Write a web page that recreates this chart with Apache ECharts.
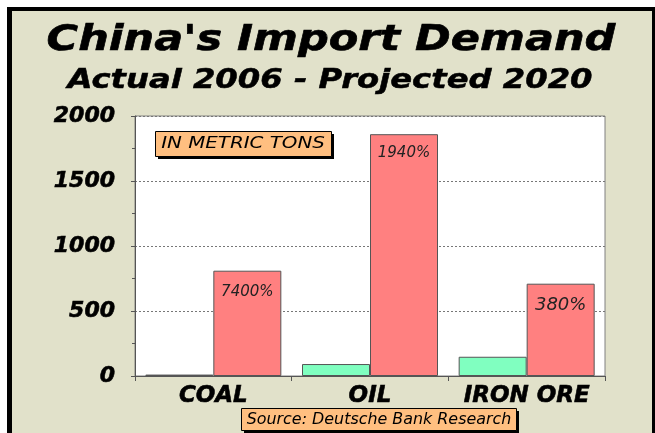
<!DOCTYPE html>
<html>
<head>
<meta charset="utf-8">
<script src="https://cdn.jsdelivr.net/npm/echarts@6/dist/echarts.min.js"></script>
<style>
  body { margin: 0; width: 655px; height: 433px; overflow: hidden; background: #fff; position: relative; }
  #frame {
    position: absolute; left: 7px; top: 7px; width: 640px; height: 460px;
    background: #e1e1ca; border: 4px solid #000; border-left-width: 5px;
  }
  #chart { position: absolute; left: 0; top: 0; width: 655px; height: 433px; }
</style>
</head>
<body>
<div id="frame"></div>
<div id="chart"></div>
<script>
// China's import demand, metric tons
const categories = ['COAL', 'OIL', 'IRON ORE'];
const actual2006 = [11, 92, 148];
const projected2020 = [810, 1860, 710];
const growthLabels = ['7400%', '1940%', '380%'];
const yTicks = [0, 500, 1000, 1500, 2000];

const font = 'DejaVu Sans, Verdana, sans-serif';

const chart = echarts.init(document.getElementById('chart'));

const boxStyle = { fill: '#ffbf80', stroke: '#000', lineWidth: 1 };

// the original text is drawn a bit wider than the font, so stretch it
function wideText(text, x, y, fontCss, sx, weight) {
  const style = { text: text, align: 'center', verticalAlign: 'middle', fill: '#000', font: fontCss };
  if (weight) {
    style.stroke = '#000';
    style.lineWidth = weight;
  }
  return { type: 'text', x: x, y: y, scaleX: sx, style: style };
}

const option = {
  animation: false,
  grid: {
    left: 135,
    right: 50,
    top: 116,
    bottom: 57,
    show: true,
    backgroundColor: '#fff',
    borderColor: '#808080',
    borderWidth: 1
  },
  xAxis: {
    type: 'category',
    data: categories,
    axisLine: { lineStyle: { color: '#555' } },
    axisTick: { show: true, length: 5, lineStyle: { color: '#555' } },
    axisLabel: {
      interval: 0,
      margin: 9,
      color: '#000',
      fontFamily: font,
      fontSize: 23,
      fontWeight: 'bold',
      fontStyle: 'italic',
      textBorderColor: '#000',
      textBorderWidth: 0.6
    }
  },
  yAxis: {
    type: 'value',
    min: yTicks[0],
    max: yTicks[yTicks.length - 1],
    interval: 500,
    axisLine: { show: true, lineStyle: { color: '#555' } },
    axisTick: { show: true, length: 4, lineStyle: { color: '#555' } },
    minorTick: { show: true, splitNumber: 2, length: 3, lineStyle: { color: '#555' } },
    splitLine: { show: true, lineStyle: { color: '#777', type: [2, 2], width: 1 } },
    axisLabel: {
      margin: 20,
      color: '#000',
      fontFamily: font,
      fontSize: 22,
      fontWeight: 'bold',
      fontStyle: 'italic',
      textBorderColor: '#000',
      textBorderWidth: 0.6,
      formatter: (v) => String(v)
    }
  },
  series: [
    {
      name: 'Actual 2006',
      type: 'bar',
      data: actual2006,
      barWidth: 68,
      barGap: '0%',
      itemStyle: { color: '#80ffc0', borderColor: '#555', borderWidth: 1 }
    },
    {
      name: 'Projected 2020',
      type: 'bar',
      data: projected2020.map((v, i) => {
        const item = { value: v };
        if (i === 0) item.label = { distance: 14 };
        if (i === 2) item.label = { fontSize: 18, distance: 13 };
        return item;
      }),
      barWidth: 68,
      itemStyle: { color: '#ff8080', borderColor: '#555', borderWidth: 1 },
      label: {
        show: true,
        position: 'insideTop',
        distance: 11,
        formatter: (p) => growthLabels[p.dataIndex],
        color: '#222',
        fontFamily: font,
        fontSize: 15,
        fontStyle: 'italic'
      }
    }
  ],
  graphic: [
    wideText("China's Import Demand", 331, 41, 'italic bold 35px ' + font, 1.23, 0.6),
    wideText('Actual 2006 - Projected 2020', 330, 81, 'italic bold 26px ' + font, 1.24, 0.5),
    {
      type: 'group',
      left: 155,
      top: 131,
      children: [
        { type: 'rect', shape: { x: 3, y: 3, width: 176, height: 25 }, style: { fill: '#000' } },
        { type: 'rect', shape: { x: 0.5, y: 0.5, width: 176, height: 25 }, style: boxStyle },
        wideText('IN METRIC TONS', 88, 13, 'italic 16px ' + font, 1.24)
      ]
    },
    {
      type: 'group',
      left: 241,
      top: 408,
      children: [
        { type: 'rect', shape: { x: 3, y: 3, width: 275, height: 22 }, style: { fill: '#000' } },
        { type: 'rect', shape: { x: 0.5, y: 0.5, width: 275, height: 22 }, style: boxStyle },
        wideText('Source: Deutsche Bank Research', 138, 12, 'italic 15px ' + font, 1.06)
      ]
    }
  ]
};

chart.setOption(option);
</script>
</body>
</html>
